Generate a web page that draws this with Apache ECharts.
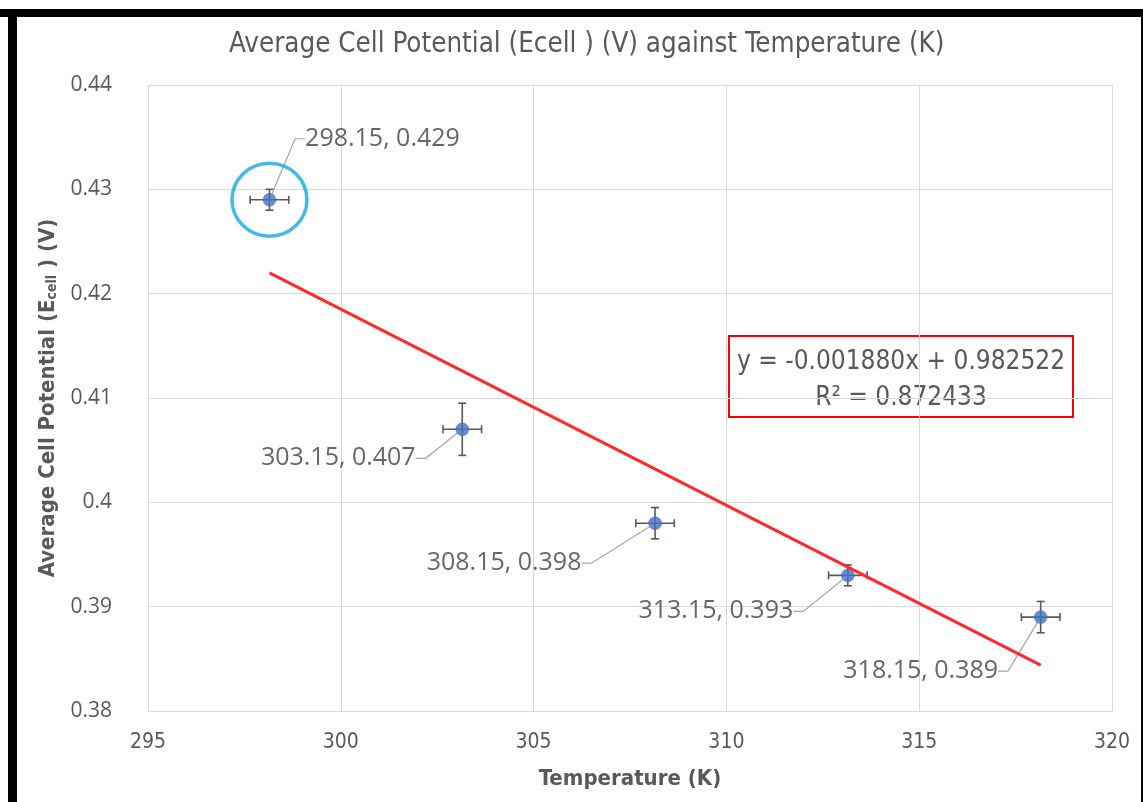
<!DOCTYPE html>
<html>
<head>
<meta charset="utf-8">
<script src="https://cdn.jsdelivr.net/npm/echarts@6/dist/echarts.min.js"></script>
<style>
html,body{margin:0;padding:0;background:#fff;}
#c{width:1143px;height:802px;}
</style>
</head>
<body>
<div id="c"></div>
<script>
// ---- data ----
const temperatures = [298.15, 303.15, 308.15, 313.15, 318.15];
const potentials   = [0.429, 0.407, 0.398, 0.393, 0.389];
const tempErrors   = [0.5, 0.5, 0.5, 0.5, 0.5];
const potErrors    = [0.001, 0.0025, 0.0015, 0.001, 0.0015];
const trendX = [298.15, 318.15];
const trendY = [0.4220, 0.3844];
const highlighted = [[298.15, 0.429]];
const xTicks = [295, 300, 305, 310, 315, 320];
const yTicks = [0.38, 0.39, 0.40, 0.41, 0.42, 0.43, 0.44];
const equationText = 'y = -0.001880x + 0.982522';
const r2Text = 'R² = 0.872433';

const labelOffsets = [[113, -61], [-124, 29], [-151, 40], [-132, 36], [-120, 54]];

const gray = '#595959';
const labelGray = '#404040';
const narrow = '"Liberation Sans Narrow", "DejaVu Sans Condensed", sans-serif';

const chart = echarts.init(document.getElementById('c'));
const pts = temperatures.map((t, i) => [t, potentials[i]]);
const errData = temperatures.map((t, i) => [t, potentials[i], tempErrors[i], potErrors[i]]);

chart.setOption({
  backgroundColor: '#fff',
  animation: false,
  title: {
    text: 'Average Cell Potential (Ecell ) (V) against Temperature (K)',
    left: 224, top: 26,
    textStyle: {color: gray, fontSize: 27.5, fontWeight: 'normal', fontFamily: narrow}
  },
  grid: {left: 148, top: 85, right: 31, bottom: 91},
  xAxis: {
    type: 'value', min: xTicks[0], max: xTicks[xTicks.length - 1], interval: 5,
    name: 'Temperature (K)', nameLocation: 'middle', nameGap: 57,
    nameTextStyle: {color: gray, fontSize: 22, fontWeight: 'bold', fontFamily: narrow},
    axisLine: {show: false}, axisTick: {show: false},
    axisLabel: {color: gray, fontSize: 21, fontFamily: narrow, margin: 21},
    splitLine: {show: true, lineStyle: {color: '#d9d9d9', width: 1}}
  },
  yAxis: {
    type: 'value', min: yTicks[0], max: yTicks[yTicks.length - 1], interval: 0.01,
    name: 'Average Cell Potential (E{sub|cell} ) (V)', nameLocation: 'middle', nameGap: 78,
    nameRotate: 90,
    nameTextStyle: {color: gray, fontSize: 22, fontWeight: 'bold', fontFamily: narrow,
      rich: {sub: {fontSize: 14, fontWeight: 'bold', color: gray, fontFamily: narrow, verticalAlign: 'bottom', padding: [8, 0, 0, 0]}}},
    axisLine: {show: false}, axisTick: {show: false},
    axisLabel: {color: gray, fontSize: 21, fontFamily: '"Open Sans", sans-serif', margin: 36,
      formatter: v => String(+v.toFixed(2))},
    splitLine: {show: true, lineStyle: {color: '#d9d9d9', width: 1}}
  },
  series: [
    {
      type: 'custom', z: 3,
      data: errData,
      renderItem: function (params, api) {
        const x = api.value(0), y = api.value(1), ex = api.value(2), ey = api.value(3);
        const l = api.coord([x - ex, y]), r = api.coord([x + ex, y]);
        const t = api.coord([x, y + ey]), b = api.coord([x, y - ey]);
        const cap = 4;
        const st = {stroke: gray, lineWidth: 1.6};
        const line = (x1, y1, x2, y2) => ({type: 'line', shape: {x1, y1, x2, y2}, style: st});
        return {type: 'group', children: [
          line(l[0], l[1], r[0], r[1]),
          line(l[0], l[1] - cap, l[0], l[1] + cap),
          line(r[0], r[1] - cap, r[0], r[1] + cap),
          line(t[0], t[1], b[0], b[1]),
          line(t[0] - cap, t[1], t[0] + cap, t[1]),
          line(b[0] - cap, b[1], b[0] + cap, b[1])
        ]};
      }
    },
    {
      type: 'scatter', z: 4,
      data: pts, symbolSize: 13,
      itemStyle: {color: '#4472C4', borderColor: '#3f66b0', borderWidth: 0.5},
      label: {
        show: true, position: 'inside', align: 'center', verticalAlign: 'middle',
        color: labelGray, fontSize: 25, fontFamily: '"Open Sans", sans-serif',
        textBorderWidth: 0,
        formatter: p => p.value[0].toFixed(2) + ', ' + p.value[1].toFixed(3)
      },
      labelLine: {show: true, lineStyle: {color: '#a6a6a6', width: 1.2}, length2: 10},
      labelLayout: function (params) {
        const o = labelOffsets[params.dataIndex];
        return {dx: o[0], dy: o[1]};
      }
    },
    {
      type: 'line', z: 5, symbol: 'none',
      data: trendX.map((x, i) => [x, trendY[i]]),
      lineStyle: {color: '#ff2b2b', width: 3}
    },
    {
      type: 'scatter', z: 6, data: highlighted, symbol: 'circle', symbolSize: [75, 73],
      itemStyle: {color: 'rgba(0,0,0,0)', borderColor: '#16a9e4', borderWidth: 3.5},
      silent: true
    }
  ],
  graphic: [
    {type: 'rect', shape: {x: 0, y: 9, width: 1143, height: 8}, style: {fill: '#000'}},
    {type: 'rect', shape: {x: 8, y: 9, width: 9, height: 793}, style: {fill: '#000'}},
    {type: 'rect', shape: {x: 1141, y: 9, width: 2, height: 793}, style: {fill: '#000'}},
    {type: 'rect', shape: {x: 729, y: 336, width: 344, height: 81},
      style: {fill: 'rgba(0,0,0,0)', stroke: '#ff0000', lineWidth: 2}},
    {type: 'text', x: 901, y: 362, style: {text: equationText, fill: gray, fontSize: 26,
      fontFamily: narrow, align: 'center', verticalAlign: 'middle'}},
    {type: 'text', x: 901, y: 398, style: {text: r2Text, fill: gray, fontSize: 26,
      fontFamily: narrow, align: 'center', verticalAlign: 'middle'}}
  ]
});
</script>
</body>
</html>
